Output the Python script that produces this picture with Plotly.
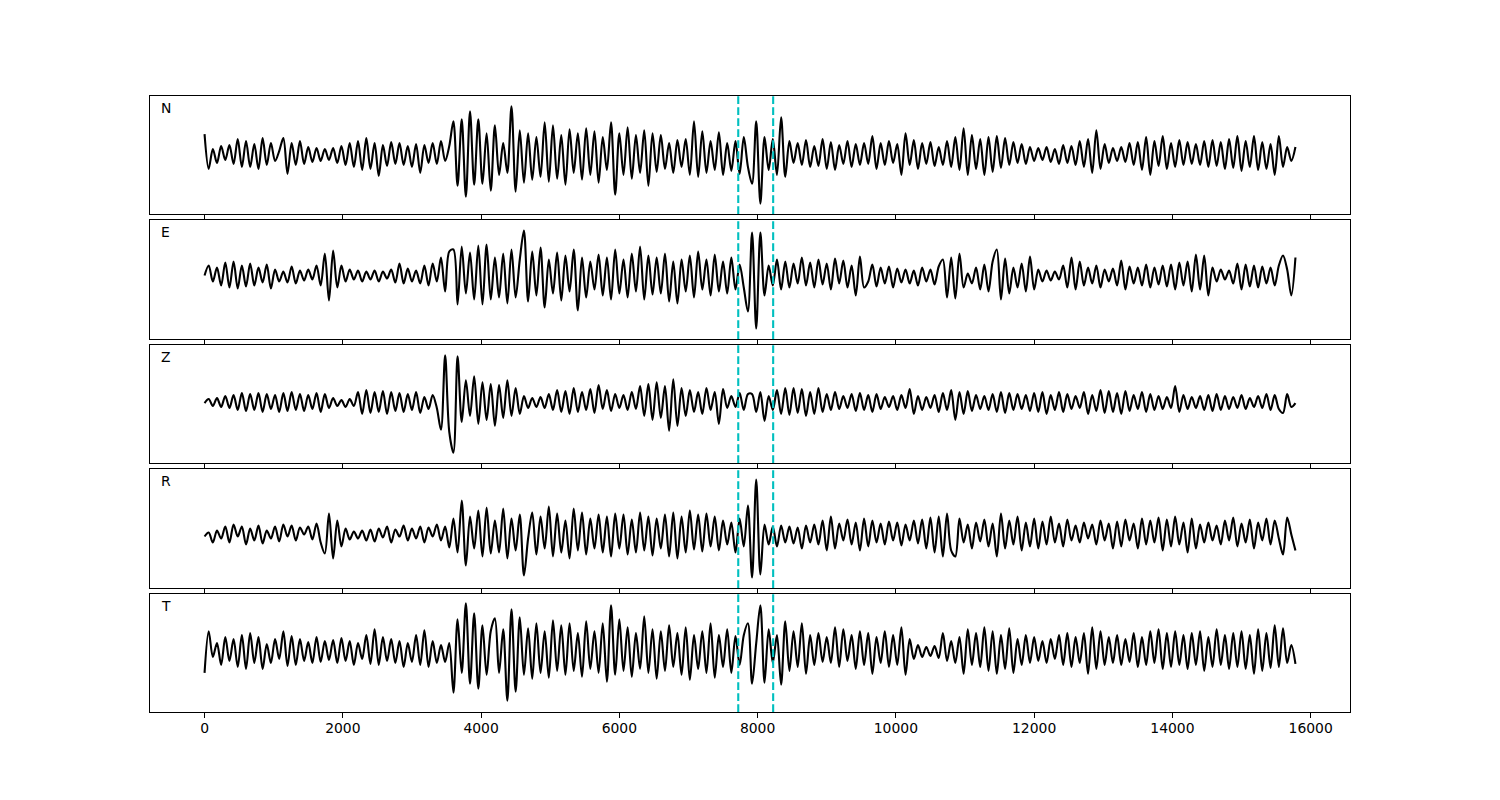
import numpy as np
import plotly.graph_objects as go

# ---------------- data ----------------
STEP = 60
channels = ["N", "E", "Z", "R", "T"]

N_vals = [21, -14, 6, -8, 9, -5, 10, -9, 16, -12,
          14, -12, 11, -14, 17, -10, 12, -6, 4, 17,
          -19, 12, -10, 14, -9, 8, -7, 7, -6, 6,
          -5, 7, -8, 9, -10, 12, -12, 14, -15, 17,
          -14, 12, -21, 10, -11, 13, -9, 12, -10, 9,
          -12, 11, -18, 10, -8, 12, -9, 14, -6, 9,
          34, -31, 36, -42, 44, -30, 36, -29, 22, -36,
          30, -20, 12, -18, 49, -37, 25, -28, 22, -25,
          18, -22, 33, -27, 30, -24, 20, -30, 26, -18,
          22, -25, 27, -20, 24, -28, 18, -15, 33, -40,
          22, -20, 28, -24, 20, -18, 25, -31, 22, -17,
          20, -14, 12, -18, 15, -12, 16, -20, 34, -22,
          24, -18, 14, -15, 23, -20, 12, -16, 14, -19, 18, -12,
          -29, 34, -49, 18, -15, 16, -20, 38, -22,
          14, -8, 12, -10, 15, -12, 9, -11, 16,
          -14, 13, -15, 10, -9, 14, -12, 11, -10, 12,
          -9, 19, -14, 12, -10, 14, -8, 11, -20, 22,
          -10, 15, -14, 12, -9, 13, -11, 8, -10, 14,
          -12, 18, -15, 27, -20, 20, -14, 16, -20, 18,
          -17, 19, -13, 17, -10, 13, -8, 11, -9, 8,
          -6, 7, -5, 8, -7, 6, -9, 10, -8, 9,
          -10, 14, -12, 16, -18, 25, -14, 11, -8, 7,
          -6, 8, -7, 12, -10, 13, -15, 18, -20, 14,
          -11, 19, -14, 12, -12, 15, -10, 13, -9, 11,
          -10, 14, -12, 15, -11, 13, -14, 16, -13, 19,
          -16, 14, -12, 19, -15, 13, -14, 11, -20, 19,
          -12, 8, -6, 8]

E_vals = [4, 14, -2, 12, -6, 17, -8, 18, -9, 14,
          -7, 16, -6, 12, -3, 15, -9, 10, -2, 8,
          -3, 13, -4, 9, -1, 10, 0, 14, -6, 26,
          -21, 29, -8, 14, -2, 10, 0, 9, -2, 8,
          0, 9, -2, 8, 1, 10, -3, 16, -4, 11,
          -2, 9, -4, 14, -6, 16, -2, 22, -12, 28,
          30, -25, 33, -14, 27, -20, 34, -25, 35, -20,
          22, -18, 26, -24, 30, -18, 20, 49, -22, 28,
          -16, 32, -28, 20, -14, 27, -21, 24, -12, 30,
          -31, 22, -18, 18, -10, 25, -16, 22, -20, 30,
          -14, 20, -18, 26, -12, 33, -20, 24, -15, 22,
          -14, 26, -22, 18, -24, 20, -12, 24, -18, 28,
          -10, 20, -16, 25, -12, 18, -14, 22, -10, 15, -8, -32,
          47, -49, 47, -16, 14,
          -6, 20, -10, 18, -8, 16, -4, 22, -6, 17, -8, 20, -5,
          16, -10, 21, -4, 19, -8, 14, -16, 23, -8,
          -2, 15, -7, 12, -4, 13, -8, 11, -3, 10,
          -4, 9, -6, 12, -2, 10, -5, 13, 20, -18,
          22, -19, 26, -8, 6, -4, 12, -10, 15, -12,
          18, 30, -20, 21, -14, 12, -8, 16, -12, 23,
          -10, 10, -2, 9, -1, 8, 0, 14, -8, 22,
          -10, 18, -6, 12, -4, 14, -8, 10, -2, 11,
          -6, 19, -10, 13, -4, 12, -6, 15, -8, 12,
          -5, 14, -7, 15, -10, 17, -6, 18, -12, 25,
          -10, 24, -16, 12, -2, 10, 0, 9, -4, 16,
          -10, 15, -7, 14, -8, 13, -4, 12, -6, 14,
          24, 10, -16, 22]

Z_vals = [1, 5, -2, 6, -3, 8, -4, 9, -6, 11,
          -7, 10, -6, 11, -8, 10, -5, 9, -8, 11,
          -7, 12, -6, 10, -7, 9, -5, 11, -8, 10,
          -4, 6, -2, 4, -3, 5, -2, 12, -10, 14,
          -9, 12, -8, 13, -10, 12, -7, 11, -8, 10,
          -6, 12, -9, 7, -5, 9, -4, -26, 49, -28,
          -49, 48, -18, 24, -12, 28, -20, 22, -16, 20,
          -22, 19, -14, 24, -12, 16, -10, 8, -4, 6,
          -3, 7, -4, 10, -6, 14, -8, 13, -10, 16,
          -8, 12, -6, 15, -9, 19, -5, 14, -7, 10,
          -4, 9, -6, 12, -5, 18, -12, 20, -16, 22,
          -14, 18, -27, 25, -22, 16, -12, 14, -8, 12,
          -10, 16, -6, 12, -20, 15, -4, 8, -3, 11, -6, 10,
          10, -8, 12, -17, 8, -6, 14, -10, 16,
          -11, 16, -9, 15, -12, 12, -10, 16, -8,
          10, -6, 12, -5, 8, -4, 10, -7, 11, -6,
          9, -8, 10, -5, 7, -3, 8, -6, 9, -4,
          15, -10, 8, -6, 7, -4, 9, -8, 11, -6,
          14, -16, 12, -10, 13, -7, 9, -5, 8, -6,
          10, -8, 12, -9, 11, -6, 10, -5, 9, -7,
          11, -8, 12, -10, 9, -6, 12, -8, 10, -5,
          8, -4, 12, -10, 9, -7, 14, -9, 13, -8,
          11, -10, 13, -7, 9, -5, 12, -8, 10, -6,
          8, -5, 7, -4, 18, -8, 9, -5, 7, -4,
          8, -6, 9, -7, 10, -6, 8, -5, 7, -4,
          9, -5, 6, -3, 8, -4, 10, -6, 9, -5,
          -9, 10, -3, 1]

R_vals = [-8, -4, -14, -2, -10, 2, -14, 4, -8, 2,
          -16, 0, -12, 3, -15, -2, -10, 2, -13, 4,
          -8, 3, -12, 1, -6, 2, -11, 5, -14, -25,
          15, -30, 8, -18, 0, -11, -3, -10, -2, -12,
          -1, -13, 0, -9, 2, -14, -1, -8, 3, -12,
          0, -10, 2, -14, 1, -8, 4, -12, 2, -19,
          10, -24, 28, -37, 12, -20, 18, -28, 21, -25,
          8, -24, 20, -30, 10, -22, 14, -47, -10, 16,
          -26, 12, -20, 22, -28, 15, -24, 8, -30, 20,
          -22, 16, -26, 10, -20, 14, -24, 12, -28, 15,
          -20, 14, -26, 9, -24, 16, -22, 12, -27, 10,
          -20, 14, -28, 16, -30, 12, -24, 18, -21, 14,
          -23, 15, -18, 12, -22, 8, -16, 6, -24, 10, -18, 23,
          -49, 49, -46, 4, -16, 2, -18, 3, -14,
          2, -15, 1, -20, 3, -14, 4, -16, 8,
          -22, 12, -20, 5, -12, 9, -16, 6, -22, 10,
          -18, 8, -14, 5, -16, 7, -12, 6, -17, 4,
          -12, 8, -15, 9, -20, 11, -24, 12, -28, 15,
          -22, -28, 10, -14, 4, -20, 6, -13, 9, -18,
          5, -28, 15, -20, 8, -16, 12, -22, 6, -18,
          10, -20, 7, -16, 12, -14, 5, -18, 9, -12,
          3, -14, 6, -10, 4, -16, 8, -12, 5, -20,
          7, -18, 9, -12, 5, -20, 10, -16, 8, -14,
          11, -22, 9, -18, 12, -16, 6, -24, 10, -20,
          4, -14, 6, -12, 3, -16, 8, -12, 11, -18,
          5, -14, 9, -20, 6, -12, 10, -16, 8, -10,
          -26, 11, -6, -22]

T_vals = [-20, 22, -4, 10, -12, 16, -8, 14, -14, 18,
          -16, 20, -10, 16, -16, 9, -10, 14, -6, 22,
          -13, 17, -12, 14, -8, 11, -10, 16, -9, 12,
          -7, 13, -10, 15, -8, 12, -12, 10, -6, 18,
          -11, 24, -12, 16, -8, 14, -10, 12, -14, 10,
          -9, 18, -12, 23, -14, 12, -10, 8, -9, 10,
          -40, 34, -20, 50, -31, 40, -36, 28, -22, 22,
          35, -20, 24, -48, 44, -39, 36, -22, 25, -26,
          30, -20, 22, -25, 33, -18, 28, -22, 30, -18,
          20, -24, 32, -16, 22, -20, 30, -29, 48, -22,
          34, -18, 26, -24, 20, -16, 37, -20, 24, -26,
          22, -18, 28, -14, 20, -22, 26, -27, 18, -16,
          22, -20, 30, -25, 18, -14, 24, -20, 17, -12, 18, 30,
          -31, 10, 48, -30, 24, -10, 18, -32, 32,
          -18, 22, -14, 30, -21, 18, -12, 20, -9,
          16, -10, 26, -14, 24, -8, 18, -16, 22, -12,
          20, -21, 16, -10, 22, -14, 18, -12, 26, -22,
          14, -6, 8, -4, 6, -3, 7, -5, 20, -8,
          12, -10, 16, -21, 24, -12, 20, -14, 26, -18,
          22, -21, 18, -16, 25, -20, 14, -12, 18, -10,
          16, -8, 12, -10, 14, -6, 18, -12, 20, -14,
          16, -10, 20, -21, 26, -16, 22, -12, 16, -10,
          18, -12, 14, -9, 20, -14, 16, -12, 22, -10,
          24, -16, 20, -14, 22, -12, 18, -16, 20, -12,
          22, -18, 16, -14, 24, -12, 18, -16, 20, -14,
          22, -16, 18, -21, 24, -18, 20, -15, 28, -14,
          25, -10, 8, -11]

picks = [7720, 8225]                       # dashed cyan markers
x_tick_vals = [0, 2000, 4000, 6000, 8000, 10000, 12000, 14000, 16000]
x_tick_text = ["0", "2000", "4000", "6000", "8000", "10000", "12000", "14000", "16000"]

traces = [N_vals, E_vals, Z_vals, R_vals, T_vals]

# ---------------- layout settings ----------------
Y_HALF = 59.5
FONT = dict(family="DejaVu Sans, Verdana, sans-serif", size=13.9, color="black")
CYAN = "#00BFBF"
domains = [(0.7325, 0.88), (0.57625, 0.725), (0.42125, 0.56875),
           (0.265, 0.41375), (0.11, 0.2575)]

t_max = max((len(v) - 1) * STEP for v in traces)
pad = 0.05 * t_max
x_range = [-pad, t_max + pad]

fig = go.Figure()
layout = dict(
    width=1500, height=800,
    paper_bgcolor="white", plot_bgcolor="white",
    margin=dict(l=0, r=0, t=0, b=0),
    showlegend=False, font=FONT,
    shapes=[], annotations=[],
)

n = len(channels)
for k, (name, vals) in enumerate(zip(channels, traces)):
    suf = "" if k == 0 else str(k + 1)
    t = np.arange(len(vals)) * STEP
    fig.add_trace(go.Scatter(
        x=t, y=vals, mode="lines",
        line=dict(color="black", width=2.1, shape="spline", smoothing=0.9),
        xaxis="x" + suf, yaxis="y" + suf, hoverinfo="skip",
    ))
    layout["xaxis" + suf] = dict(
        domain=[0.1, 0.9], range=x_range, anchor="y" + suf,
        showline=True, mirror=True, linecolor="black", linewidth=1.1,
        ticks="outside", ticklen=5, tickwidth=1.1, tickcolor="black",
        tickmode="array", tickvals=x_tick_vals, ticktext=x_tick_text,
        ticklabelstandoff=-2,
        showticklabels=(k == n - 1), showgrid=False, zeroline=False,
        tickfont=FONT,
    )
    if k > 0:
        layout["xaxis" + suf]["matches"] = "x"
    layout["yaxis" + suf] = dict(
        domain=list(domains[k]), range=[-Y_HALF, Y_HALF], anchor="x" + suf,
        showline=True, mirror=True, linecolor="black", linewidth=1.1,
        ticks="", showticklabels=False, showgrid=False, zeroline=False,
    )
    for p in picks:
        layout["shapes"].append(dict(
            type="line", xref="x" + suf, yref="y" + suf + " domain",
            x0=p, x1=p, y0=0, y1=1,
            line=dict(color=CYAN, width=2.1, dash="7.7px,3.3px"),
        ))
    layout["annotations"].append(dict(
        text=name, xref="x" + suf + " domain", yref="y" + suf + " domain",
        x=0.0075, y=0.9, xanchor="left", yanchor="middle",
        showarrow=False, font=FONT,
    ))

fig.update_layout(**layout)
fig.write_html("out.html",
               config={"displayModeBar": False},
               post_script="document.body.style.margin='0px';document.body.style.padding='0px';")
